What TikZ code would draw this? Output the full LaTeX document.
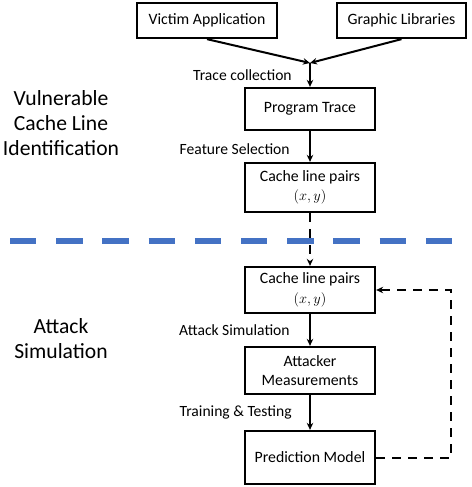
\documentclass[tikz,border=0pt]{standalone}
\usepackage{fontspec}
\setmainfont{Carlito}
\usepackage{xcolor}
\definecolor{sepblue}{HTML}{4472C4}
\tikzstyle{block} = [draw=black, rectangle, line width=2.3pt, fill=white, align=center, minimum width=130pt, inner sep=2pt, font=\fontsize{15.8}{19.5}\selectfont]
\tikzstyle{steplabel} = [font=\fontsize{15.6}{19.5}\selectfont, left=14pt]
\tikzstyle{phase} = [align=center, font=\fontsize{21.6}{25}\selectfont]
\tikzstyle{myarrow} = [line width=2pt, ->]
\tikzstyle{dasharrow} = [myarrow, dash pattern=on 9pt off 7pt]
\tikzstyle{sep} = [sepblue, line width=5.5pt, dash pattern=on 26.3pt off 19.9pt]
\usetikzlibrary{positioning, arrows.meta}

\begin{document}
\begin{tikzpicture}[x=1pt, y=-1pt, >={Stealth[length=7pt, width=6.5pt]}, node distance=80pt]

		% background
		\useasboundingbox[fill=white] (0,0) rectangle (471,487);

		% sources
		\node[block, minimum width=140pt, minimum height=35pt] (victim) at (207,20.5) {Victim Application};
		\node[block, minimum width=129pt, minimum height=35pt] (graphic) at (401.5,20.5) {Graphic Libraries};
		\coordinate (join) at (310,63);

		% identification
		\node[block, minimum height=42pt] (trace) at (310,109) {Program Trace};
		\node[block, minimum height=49pt, below of=trace, node distance=78.5pt] (pairs) {Cache line pairs\\$(x,y)$};

		% attack simulation
		\node[block, minimum height=46pt, below of=pairs, node distance=102.5pt] (pairsb) {Cache line pairs\\$(x,y)$};
		\node[block, minimum height=47pt, below of=pairsb, node distance=80.5pt] (measure) {Attacker\\Measurements};
		\node[block, minimum height=53pt, below of=measure, node distance=87pt] (model) {Prediction Model};

		% phases
		\node[phase] (ident) at (61,123) {Vulnerable\\Cache Line\\Identification};
		\node[phase] (attack) at (61,339) {Attack\\Simulation};

		% separator
		\coordinate (sepl) at (10,241);
		\coordinate (sepr) at (452,241);
		\draw[sep] (sepl) -- (sepr);

		% connections
		\draw[myarrow] (victim.south) -- (join);
		\draw[myarrow] (graphic.south) -- (join);
		\draw[myarrow] (join) -- (trace) node[midway, steplabel] {Trace collection};
		\draw[myarrow] (trace) -- (pairs) node[pos=0.6, steplabel, left=16pt] {Feature Selection};
		\draw[dasharrow] (pairs) -- (pairsb);
		\draw[myarrow] (pairsb) -- (measure) node[midway, steplabel, left=16pt] {Attack Simulation};
		\draw[myarrow] (measure) -- (model) node[midway, steplabel] {Training \& Testing};
		\draw[dasharrow] (model.east) -| ([xshift=75pt]pairsb.east) -- (pairsb.east);

	\end{tikzpicture}
\end{document}
